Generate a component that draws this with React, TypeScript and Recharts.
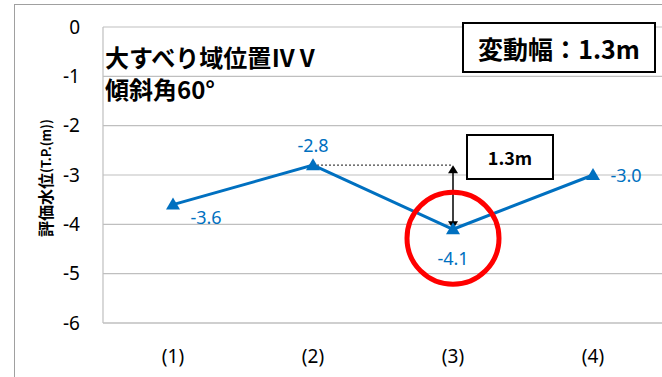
import {
  LineChart,
  Line,
  XAxis,
  YAxis,
  CartesianGrid,
  LabelList,
  ReferenceLine,
  ReferenceDot,
} from "recharts";

const categories = ["(1)", "(2)", "(3)", "(4)"];
const waterLevels = [-3.6, -2.8, -4.1, -3.0];
const yTicks = [0, -1, -2, -3, -4, -5, -6];

// label placement around each marker (dx, dy)
const labelOffsets = [
  [33, 12],
  [0, -20],
  [0, 29],
  [33, 0],
];

const BLUE = "#0070C0";
const GRID = "#bfbfbf";
const CJK = "'Noto Sans CJK JP', 'Noto Sans', sans-serif";
const NUM = "'Noto Sans', 'Open Sans', sans-serif";

const data = categories.map((name, i) => ({ name, level: waterLevels[i] }));

const hiIdx = waterLevels.indexOf(Math.max(...waterLevels));
const loIdx = waterLevels.indexOf(Math.min(...waterLevels));
const range = (waterLevels[hiIdx] - waterLevels[loIdx]).toFixed(1);

function TriangleDot(props: any) {
  const { cx, cy } = props;
  if (cx == null || cy == null) return null;
  return (
    <polygon
      points={`${cx},${cy - 7} ${cx - 7},${cy + 5} ${cx + 7},${cy + 5}`}
      fill={BLUE}
    />
  );
}

function ValueLabel(props: any) {
  const x = props.viewBox?.x ?? props.x;
  const y = props.viewBox?.y ?? props.y;
  const idx = props.index ?? waterLevels.indexOf(props.value);
  const [dx, dy] = labelOffsets[idx] ?? [0, -16];
  return (
    <text
      x={x + dx}
      y={y + dy}
      textAnchor="middle"
      dominantBaseline="central"
      fontFamily={NUM}
      fontSize={18}
      fill={BLUE}
    >
      {Number(props.value).toFixed(1)}
    </text>
  );
}

function DoubleArrow(props: any) {
  const { x1, y1, x2, y2 } = props;
  const h = 8;
  const w = 5;
  return (
    <g>
      <line x1={x1} y1={y1 + 2} x2={x2} y2={y2 - 2} stroke="#000" strokeWidth={1.5} />
      <polygon points={`${x1},${y1} ${x1 - w},${y1 + h} ${x1 + w},${y1 + h}`} fill="#000" />
      <polygon points={`${x2},${y2} ${x2 - w},${y2 - h} ${x2 + w},${y2 - h}`} fill="#000" />
    </g>
  );
}

function RingMark(props: any) {
  const { cx, cy } = props;
  return <circle cx={cx} cy={cy + 9} r={46} fill="none" stroke="#ff0000" strokeWidth={5} />;
}

function AxisTitle() {
  const cx = 45;
  const cy = 178;
  return (
    <text
      x={cx}
      y={cy}
      transform={`rotate(-90, ${cx}, ${cy})`}
      textAnchor="middle"
      dominantBaseline="central"
      fontFamily={CJK}
      fill="#000"
    >
      <tspan fontSize={16} fontWeight={700}>評価水位</tspan>
      <tspan fontSize={13} fontWeight={700}>(T.P.(m))</tspan>
    </text>
  );
}

export default function App() {
  return (
    <div
      style={{
        position: "absolute",
        left: 0,
        top: 0,
        width: 662,
        height: 377,
        overflow: "hidden",
        background: "#fff",
      }}
    >
      <div
        style={{
          position: "absolute",
          left: 14,
          top: 4,
          width: 700,
          height: 420,
          border: "1.5px solid #a0a0a0",
        }}
      />
      <LineChart
        width={670}
        height={377}
        data={data}
        margin={{ top: 27, right: 7, bottom: 4, left: 43 }}
        style={{ position: "absolute", left: 0, top: 0 }}
      >
        <CartesianGrid vertical={false} stroke={GRID} strokeWidth={1.2} />
        <XAxis
          dataKey="name"
          height={50}
          padding={{ left: 70, right: 70 }}
          tickLine={false}
          tickSize={0}
          tickMargin={27}
          axisLine={{ stroke: GRID, strokeWidth: 1.2 }}
          tick={{ fontSize: 19, fill: "#000", fontFamily: NUM }}
        />
        <YAxis
          width={60}
          domain={[-6, 0]}
          ticks={yTicks}
          interval={0}
          tickLine={false}
          tickSize={0}
          tickMargin={23}
          axisLine={{ stroke: GRID, strokeWidth: 1.2 }}
          tick={{ fontSize: 19, fill: "#000", fontFamily: NUM }}
          label={<AxisTitle />}
        />
        <ReferenceLine
          segment={[
            { x: categories[hiIdx], y: waterLevels[hiIdx] },
            { x: categories[loIdx], y: waterLevels[hiIdx] },
          ]}
          stroke="#444"
          strokeWidth={1.2}
          strokeDasharray="2 2"
        />
        <ReferenceLine
          segment={[
            { x: categories[loIdx], y: waterLevels[hiIdx] },
            { x: categories[loIdx], y: waterLevels[loIdx] },
          ]}
          shape={<DoubleArrow />}
        />
        <Line
          type="linear"
          dataKey="level"
          stroke={BLUE}
          strokeWidth={3}
          dot={<TriangleDot />}
          activeDot={false}
          isAnimationActive={false}
        >
          <LabelList dataKey="level" content={<ValueLabel />} />
        </Line>
        <ReferenceDot
          x={categories[loIdx]}
          y={waterLevels[loIdx]}
          r={46}
          shape={<RingMark />}
        />
      </LineChart>

      <div
        style={{
          position: "absolute",
          left: 105,
          top: 44,
          fontFamily: CJK,
          fontWeight: 700,
          fontSize: 24,
          lineHeight: "26px",
          color: "#000",
          whiteSpace: "nowrap",
        }}
      >
        大すべり域位置ⅣⅤ
      </div>
      <div
        style={{
          position: "absolute",
          left: 105,
          top: 76,
          fontFamily: CJK,
          fontWeight: 700,
          fontSize: 24,
          lineHeight: "26px",
          color: "#000",
          whiteSpace: "nowrap",
        }}
      >
        傾斜角60°
      </div>
      <div
        style={{
          position: "absolute",
          left: 462,
          top: 22,
          width: 190,
          height: 47,
          border: "2px solid #000",
          background: "#fff",
          display: "flex",
          alignItems: "center",
          justifyContent: "center",
          fontFamily: CJK,
          fontWeight: 700,
          fontSize: 25,
          color: "#000",
          whiteSpace: "nowrap",
        }}
      >
        変動幅：{range}m
      </div>
      <div
        style={{
          position: "absolute",
          left: 466,
          top: 134,
          width: 84,
          height: 42,
          border: "2px solid #000",
          background: "#fff",
          display: "flex",
          alignItems: "center",
          justifyContent: "center",
          fontFamily: CJK,
          fontWeight: 700,
          fontSize: 18,
          color: "#000",
        }}
      >
        {range}m
      </div>
    </div>
  );
}
